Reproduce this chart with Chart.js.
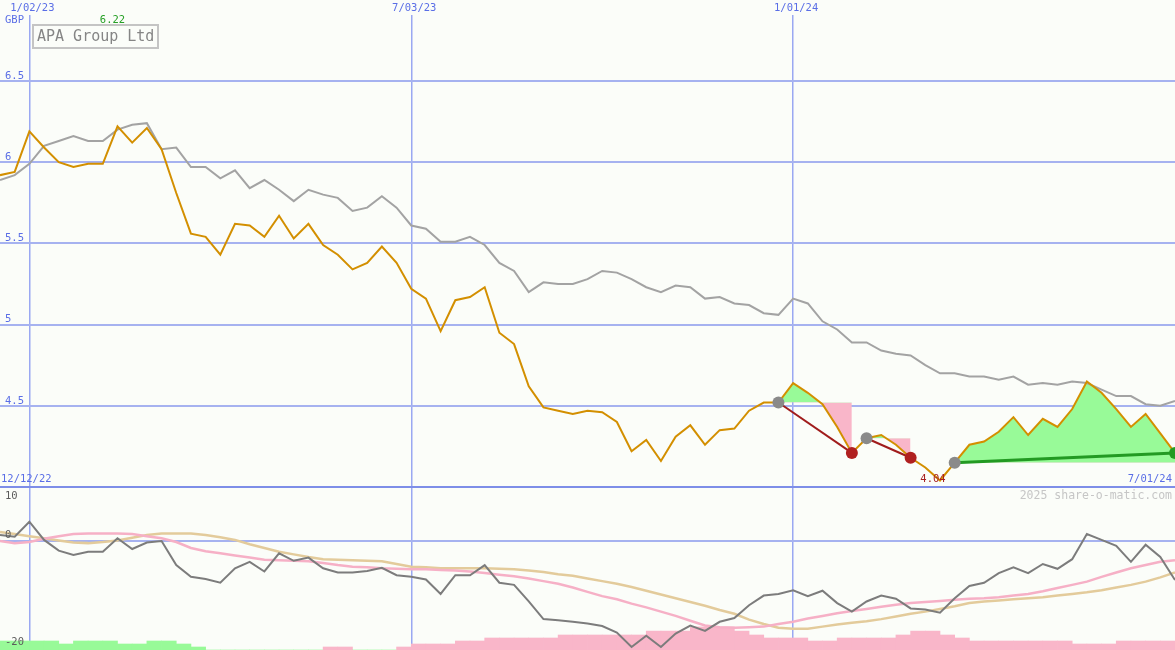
<!DOCTYPE html>
<html>
<head>
<meta charset="utf-8">
<title>APA Group Ltd</title>
<script src="https://cdn.jsdelivr.net/npm/chart.js@4.4.1/dist/chart.umd.min.js"></script>
<style>
  html, body { margin: 0; padding: 0; background: #fbfdf9; }
  #wrap { position: relative; width: 1175px; height: 650px; overflow: hidden; }
  #price-wrap { position: absolute; left: 0; top: 0; width: 1175px; height: 488px; }
  #ind-wrap { position: absolute; left: 0; top: 488px; width: 1175px; height: 162px; }
</style>
</head>
<body>
<div id="wrap">
  <div id="price-wrap"><canvas id="price-chart"></canvas></div>
  <div id="ind-wrap"><canvas id="ind-chart"></canvas></div>
</div>
<script>
// weekly closes, 19 Dec 2022 .. 1 Jul 2024 (81 weeks)
const stockName = 'APA Group Ltd';
const currency = 'GBP';
const startLabel = '12/12/22';
const endLabel = '7/01/24';
const copyright = '2025 share-o-matic.com';
const markWeeks = [2, 28, 54];
const markLabels = ['1/02/23', '7/03/23', '1/01/24'];
const priceTicks = [4, 4.5, 5, 5.5, 6, 6.5];
const indLabels = ['10', '0', '-20'];

const price = [
  5.92, 5.94, 6.19, 6.09, 6.00, 5.97, 5.99, 5.99, 6.22, 6.12,
  6.21, 6.08, 5.81, 5.56, 5.54, 5.43, 5.62, 5.61, 5.54, 5.67,
  5.53, 5.62, 5.49, 5.43, 5.34, 5.38, 5.48, 5.38, 5.22, 5.16,
  4.96, 5.15, 5.17, 5.23, 4.95, 4.88, 4.62, 4.49, 4.47, 4.45,
  4.47, 4.46, 4.40, 4.22, 4.29, 4.16, 4.31, 4.38, 4.26, 4.35,
  4.36, 4.47, 4.52, 4.52, 4.64, 4.58, 4.51, 4.37, 4.21, 4.30,
  4.32, 4.26, 4.18, 4.12, 4.04, 4.15, 4.26, 4.28, 4.34, 4.43,
  4.32, 4.42, 4.37, 4.48, 4.65, 4.58, 4.48, 4.37, 4.45, 4.33,
  4.21
];
const relative = [
  5.89, 5.92, 5.99, 6.10, 6.13, 6.16, 6.13, 6.13, 6.20, 6.23,
  6.24, 6.08, 6.09, 5.97, 5.97, 5.90, 5.95, 5.84, 5.89, 5.83,
  5.76, 5.83, 5.80, 5.78, 5.70, 5.72, 5.79, 5.72, 5.61, 5.59,
  5.51, 5.51, 5.54, 5.49, 5.38, 5.33, 5.20, 5.26, 5.25, 5.25,
  5.28, 5.33, 5.32, 5.28, 5.23, 5.20, 5.24, 5.23, 5.16, 5.17,
  5.13, 5.12, 5.07, 5.06, 5.16, 5.13, 5.02, 4.97, 4.89, 4.89,
  4.84, 4.82, 4.81, 4.75, 4.70, 4.70, 4.68, 4.68, 4.66, 4.68,
  4.63, 4.64, 4.63, 4.65, 4.64, 4.60, 4.56, 4.56, 4.51, 4.50,
  4.53
];
const momentum = [
  1.1, 0.8, 3.6, 0.2, -1.8, -2.6, -2.0, -2.0, 0.5, -1.5,
  -0.3, 0.0, -4.5, -6.7, -7.1, -7.8, -5.1, -3.9, -5.7, -2.3,
  -3.7, -3.1, -5.1, -5.9, -5.9, -5.6, -5.0, -6.4, -6.7, -7.2,
  -9.9, -6.4, -6.4, -4.5, -7.8, -8.2, -11.3, -14.6, -14.8, -15.1,
  -15.4, -15.9, -17.1, -19.8, -17.7, -19.8, -17.3, -15.8, -16.8, -15.1,
  -14.4, -12.0, -10.2, -9.9, -9.2, -10.3, -9.3, -11.6, -13.2, -11.3,
  -10.2, -10.8, -12.6, -12.8, -13.4, -10.7, -8.4, -7.8, -6.0, -4.9,
  -6.0, -4.3, -5.2, -3.4, 1.3, 0.2, -0.9, -3.9, -0.7, -3.0,
  -7.3
];
const avgFast = [
  0.0, -0.4, -0.2, 0.4, 0.9, 1.3, 1.4, 1.4, 1.4, 1.3,
  0.9, 0.5, -0.2, -1.3, -1.9, -2.3, -2.7, -3.1, -3.5, -3.6,
  -3.7, -3.8, -4.1, -4.5, -4.8, -4.9, -5.1, -5.2, -5.3, -5.3,
  -5.4, -5.5, -5.7, -6.0, -6.3, -6.6, -7.0, -7.5, -8.0, -8.7,
  -9.5, -10.3, -10.9, -11.7, -12.4, -13.2, -14.0, -14.9, -15.8, -16.1,
  -16.2, -16.1, -16.0, -15.5, -15.1, -14.5, -14.0, -13.5, -13.1, -12.7,
  -12.3, -11.9, -11.6, -11.4, -11.2, -11.0, -10.8, -10.7, -10.5, -10.2,
  -9.9, -9.4, -8.8, -8.2, -7.6, -6.7, -5.9, -5.1, -4.5, -3.9,
  -3.6
];
const avgSlow = [
  1.7, 1.3, 0.9, 0.5, 0.1, -0.3, -0.4, -0.2, 0.1, 0.6,
  1.1, 1.4, 1.4, 1.4, 1.1, 0.7, 0.2, -0.6, -1.3, -2.0,
  -2.5, -3.0, -3.4, -3.5, -3.6, -3.7, -3.8, -4.3, -4.8, -4.9,
  -5.1, -5.1, -5.1, -5.1, -5.2, -5.3, -5.5, -5.8, -6.2, -6.5,
  -7.0, -7.5, -8.0, -8.6, -9.3, -10.0, -10.7, -11.4, -12.1, -12.9,
  -13.6, -14.7, -15.5, -16.2, -16.4, -16.4, -16.0, -15.6, -15.3, -15.0,
  -14.6, -14.1, -13.6, -13.2, -12.7, -12.2, -11.6, -11.3, -11.1, -10.9,
  -10.7, -10.5, -10.2, -9.9, -9.6, -9.2, -8.7, -8.2, -7.6, -6.8,
  -5.9
];
// weekly bar strength between weeks: + green, - pink
const barSignal = [
  3, 3, 3, 3, 2, 3, 3, 3, 2, 2,
  3, 3, 2, 1, 0, 0, 0, 0, 0, 0,
  0, 0, -1, -1, 0, 0, 0, -1, -2, -2,
  -2, -3, -3, -4, -4, -4, -4, -4, -5, -5,
  -5, -5, -5, -5, -6.3, -6.3, -6.3, -7.7, -7.7, -7.7,
  -6.3, -5, -4, -4, -4, -3, -3, -4, -4, -4,
  -4, -5, -6.3, -6.3, -5, -4, -3, -3, -3, -3,
  -3, -3, -3, -2, -2, -2, -3, -3, -3, -3
];
const tradeEntry = [53, 59, 65];
const tradeExit = [58, 62, 80];

const BLUE = '#5a6ee6';
const GRID = '#a6b2f0';
const VGRID = '#9aa8f2';
const BORDER = '#7e8ee8';
const GREEN_FILL = '#98fa98';
const PINK_FILL = '#f9b6c9';
const FONT = '"DejaVu Sans Mono", monospace';

Chart.defaults.font.family = FONT;
Chart.defaults.animation = false;

const pts = (arr, from, to) => {
  const out = [];
  for (let i = from; i <= to; i++) out.push({x: i, y: arr[i]});
  return out;
};
const flat = (v, from, to) => {
  const out = [];
  for (let i = from; i <= to; i++) out.push({x: i, y: v});
  return out;
};
// scales take no room: the plot fills the canvas
const noRoom = s => {
  if (s.isHorizontal()) s.height = 0; else s.width = 0;
  s.paddingTop = 0; s.paddingBottom = 0; s.paddingLeft = 0; s.paddingRight = 0;
};

// ---------- price panel ----------
const priceSets = [];
tradeEntry.forEach((e, k) => {
  const x = tradeExit[k];
  const lvl = priceSets.length;
  priceSets.push({data: flat(price[e], e, x), borderColor: 'rgba(0,0,0,0)', borderWidth: 0, pointRadius: 0, order: 6});
  priceSets.push({data: pts(price, e, x), borderColor: 'rgba(0,0,0,0)', borderWidth: 0, pointRadius: 0, order: 6,
    fill: {target: lvl, above: GREEN_FILL, below: PINK_FILL}});
});
priceSets.push({data: pts(relative, 0, 80), borderColor: '#a3a3a3', borderWidth: 2, pointRadius: 0, order: 4});
priceSets.push({data: pts(price, 0, 80), borderColor: '#d38f00', borderWidth: 2, pointRadius: 0, order: 3});
tradeEntry.forEach((e, k) => {
  const x = tradeExit[k];
  const win = price[x] >= price[e];
  priceSets.push({data: [{x: e, y: price[e]}, {x: x, y: price[x]}],
    borderColor: win ? '#239a23' : '#a01c1c', borderWidth: win ? 3 : 2, pointRadius: 0, order: 2});
});
priceSets.push({data: tradeEntry.map(e => ({x: e, y: price[e]})), showLine: false,
  pointRadius: 6, pointBorderWidth: 0, pointBackgroundColor: '#8a8a8a', order: 1});
priceSets.push({data: tradeExit.map(x => ({x: x, y: price[x]})), showLine: false,
  pointRadius: 6, pointBorderWidth: 0, order: 1,
  pointBackgroundColor: tradeExit.map((x, k) => price[x] >= price[tradeEntry[k]] ? '#239a23' : '#b02020')});

const priceText = {
  id: 'priceText',
  afterDraw(chart) {
    const {ctx, scales: {x}} = chart;
    ctx.save();
    ctx.textBaseline = 'middle';
    ctx.font = '10.5px ' + FONT;
    ctx.fillStyle = BLUE;
    ctx.textAlign = 'center';
    markWeeks.forEach((w, k) => ctx.fillText(markLabels[k], x.getPixelForValue(w) + 3, 8));
    ctx.textAlign = 'left';
    ctx.fillText(currency, 5, 20);
    ctx.fillText(startLabel, 1, 479);
    ctx.textAlign = 'right';
    ctx.fillText(endLabel, 1172, 479);
    const hi = Math.max(...price), lo = Math.min(...price);
    ctx.textAlign = 'center';
    ctx.fillStyle = '#26a026';
    ctx.fillText(hi.toFixed(2), x.getPixelForValue(price.indexOf(hi)) - 5, 20);
    ctx.fillStyle = '#a82020';
    ctx.fillText(lo.toFixed(2), x.getPixelForValue(price.indexOf(lo)) - 7, 479);
    // name box
    ctx.strokeStyle = '#c4c4c4';
    ctx.lineWidth = 2;
    ctx.fillStyle = '#fbfdf9';
    ctx.fillRect(33, 25, 125, 23);
    ctx.strokeRect(33, 25, 125, 23);
    ctx.font = '15px ' + FONT;
    ctx.fillStyle = '#858585';
    ctx.textAlign = 'left';
    ctx.fillText(stockName, 37, 37);
    ctx.restore();
  }
};

new Chart(document.getElementById('price-chart'), {
  type: 'line',
  data: {datasets: priceSets},
  plugins: [priceText],
  options: {
    responsive: true,
    maintainAspectRatio: false,
    events: [],
    layout: {autoPadding: false, padding: {top: 15, bottom: 1, left: 0, right: 0}},
    plugins: {legend: {display: false}, tooltip: {enabled: false}},
    scales: {
      x: {
        type: 'linear', position: 'top', min: 0, max: 80, offset: false,
        afterBuildTicks: s => { s.ticks = markWeeks.map(v => ({value: v})); },
        afterFit: noRoom,
        ticks: {display: false},
        grid: {color: VGRID, lineWidth: 1.5, drawTicks: false, offset: false},
        border: {display: false}
      },
      y: {
        type: 'linear', position: 'left', min: 4, max: 6.906,
        afterBuildTicks: s => { s.ticks = priceTicks.map(v => ({value: v})); },
        afterFit: noRoom,
        ticks: {
          mirror: true, padding: 5, labelOffset: -5, color: BLUE,
          font: {size: 10.5, family: FONT},
          callback: v => v === 4 ? '' : String(v)
        },
        grid: {color: c => c.tick && c.tick.value === 4 ? BORDER : GRID, lineWidth: 2, drawTicks: false},
        border: {display: false}
      }
    }
  }
});

// ---------- indicator panel ----------
const indText = {
  id: 'indText',
  afterDraw(chart) {
    const {ctx} = chart;
    ctx.save();
    ctx.textBaseline = 'middle';
    ctx.font = '10.5px ' + FONT;
    ctx.fillStyle = '#5c5c5c';
    ctx.textAlign = 'left';
    ctx.fillText(indLabels[0], 5, 8);
    ctx.fillText(indLabels[1], 5, 47);
    ctx.fillText(indLabels[2], 5, 154);
    ctx.font = '11.5px ' + FONT;
    ctx.fillStyle = '#c6c6c6';
    ctx.textAlign = 'right';
    ctx.fillText(copyright, 1172, 8);
    ctx.restore();
  }
};

new Chart(document.getElementById('ind-chart'), {
  type: 'line',
  data: {
    datasets: [
      {type: 'bar', yAxisID: 'yb', order: 10,
        data: barSignal.map((v, j) => ({x: j + 0.5, y: Math.abs(v)})),
        backgroundColor: barSignal.map(v => v >= 0 ? GREEN_FILL : PINK_FILL),
        borderWidth: 0, barPercentage: 1, categoryPercentage: 1},
      {data: pts(avgSlow, 0, 80), borderColor: '#e3cb9b', borderWidth: 2.5, pointRadius: 0, order: 3},
      {data: pts(avgFast, 0, 80), borderColor: '#f6b0c6', borderWidth: 2.5, pointRadius: 0, order: 2},
      {data: pts(momentum, 0, 80), borderColor: '#7c7c7c', borderWidth: 2, pointRadius: 0, order: 1}
    ]
  },
  plugins: [indText],
  options: {
    responsive: true,
    maintainAspectRatio: false,
    events: [],
    layout: {autoPadding: false, padding: 0},
    plugins: {legend: {display: false}, tooltip: {enabled: false}},
    scales: {
      x: {
        type: 'linear', position: 'bottom', min: 0, max: 80, offset: false,
        afterBuildTicks: s => { s.ticks = markWeeks.map(v => ({value: v})); },
        afterFit: noRoom,
        ticks: {display: false},
        grid: {color: VGRID, lineWidth: 1.5, drawTicks: false, offset: false},
        border: {display: false}
      },
      y: {
        type: 'linear', position: 'left', min: -20.37, max: 9.9,
        afterBuildTicks: s => { s.ticks = [{value: 0}]; },
        afterFit: noRoom,
        ticks: {display: false},
        grid: {color: GRID, lineWidth: 2, drawTicks: false},
        border: {display: false}
      },
      yb: {type: 'linear', display: false, min: 0, max: 54}
    }
  }
});
</script>
</body>
</html>
